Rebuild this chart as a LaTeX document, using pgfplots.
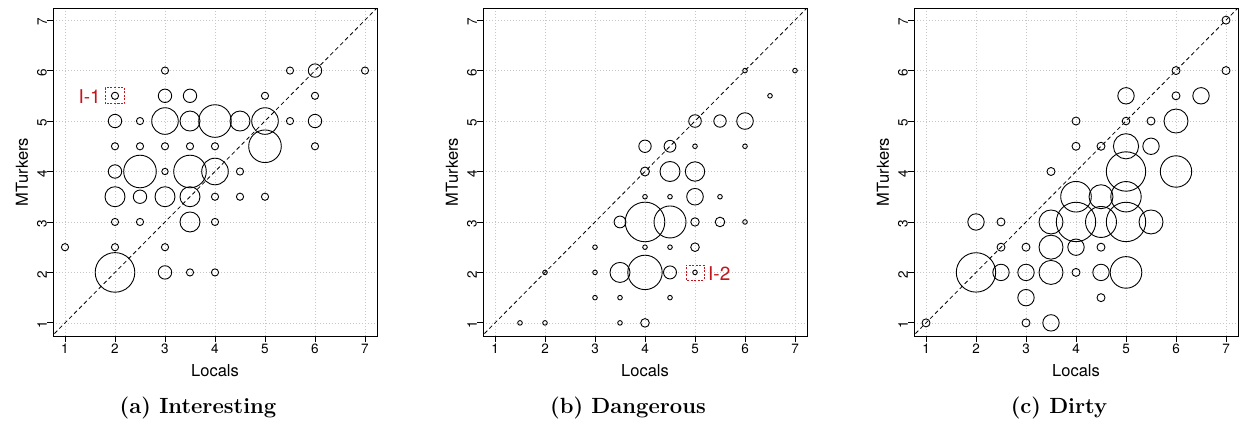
\documentclass[border=0pt]{standalone}
\usepackage{fontspec}
\setsansfont{TeX Gyre Heros}
\usepackage{pgfplots}
\usepackage{pgfplotstable}
\pgfplotsset{compat=1.18}
\definecolor{annot}{RGB}{196,20,28}

% x = Locals, y = MTurkers, r = circle radius (pt)
\pgfplotstableread{
x   y   r
3   6   3.6
5.5 6   3.6
6   6   6.7
7   6   3.6
2   5.5 3.6
3   5.5 6.7
3.5 5.5 6.7
5   5.5 3.6
6   5.5 3.6
2   5   6.7
2.5 5   3.6
3   5   13.3
3.5 5   10
4   5   16.3
4.5 5   10
5   5   13.3
5.5 5   3.6
6   5   6.7
2   4.5 3.6
2.5 4.5 3.6
3   4.5 3.6
3.5 4.5 3.6
4   4.5 3.6
5   4.5 16.3
6   4.5 3.6
2   4   6.7
2.5 4   16.3
3   4   3.2
3.5 4   16.3
4   4   13.3
4.5 4   3.6
2   3.5 10
2.5 3.5 6.7
3   3.5 10
3.5 3.5 10
4   3.5 3.6
4.5 3.5 3.6
5   3.5 3.6
2   3   3.6
2.5 3   3.6
3.5 3   10
4   3   3.6
1   2.5 3.6
2   2.5 3.6
3   2.5 3.6
2   2   19.8
3   2   6.7
3.5 2   3.6
4   2   3.6
}\dataA

\pgfplotstableread{
x   y   r
6   6   2.3
7   6   2.3
6.5 5.5 2.3
5   5   6.3
5.5 5   6.2
6   5   8.3
4   4.5 6.2
4.5 4.5 5.9
5   4.5 2.3
6   4.5 2.3
4   4   4.5
4.5 4   10
5   4   9.7
4   3.5 2.3
4.5 3.5 2.3
5   3.5 8.3
5.5 3.5 2.3
3.5 3   5.9
4   3   19.8
4.5 3   16
5   3   4.2
5.5 3   4.8
6   3   2.3
3   2.5 2.3
4   2.5 2.3
4.5 2.5 2.3
5   2.5 4.3
2   2   2.3
3   2   2.3
3.5 2   10
4   2   17.2
4.5 2   6.5
5   2   2.3
3   1.5 2.3
3.5 1.5 2.3
4.5 1.5 2.3
1.5 1   2.3
2   1   2.3
3.5 1   2.3
4   1   4.3
}\dataB

\pgfplotstableread{
x   y   r
7   7   4
6   6   4
7   6   4
5   5.5 8.2
6   5.5 4
6.5 5.5 8.2
4   5   4
5   5   3.8
5.5 5   4
6   5   12
4   4.5 4
4.5 4.5 4
5   4.5 12.6
5.5 4.5 8.2
3.5 4   4
5   4   19.7
6   4   15.7
4   3.5 15.3
4.5 3.5 12
5   3.5 15.2
2   3   8.2
2.5 3   4
3.5 3   12
4   3   19.7
4.5 3   15.5
5   3   19.7
5.5 3   12
2.5 2.5 4
3   2.5 4
3.5 2.5 12
4   2.5 8.2
4.5 2.5 4
2   2   19.7
2.5 2   8.2
3   2   8.2
3.5 2   12
4   2   4
4.5 2   8.2
5   2   15.8
3   1.5 8.2
4.5 1.5 4
1   1   4
3   1   4
3.5 1   8.2
}\dataC

\pgfplotsset{
  panel/.style={
    width=324pt, height=328pt, scale only axis,
    anchor=south west,
    xmin=0.76, xmax=7.24, ymin=0.74, ymax=7.24,
    xtick={1,...,7}, ytick={1,...,7},
    xtick pos=left, ytick pos=left,
    tick align=outside,
    major tick length=6pt,
    every tick/.style={black, line width=0.8pt},
    axis line style={line width=0.9pt},
    grid=major,
    grid style={black!22, dash pattern=on 1pt off 2pt, line width=0.7pt},
    /pgf/number format/assume math mode=true,
    tick label style={font=\sffamily\fontsize{13.5}{15}\selectfont},
    xticklabel style={anchor=north, inner sep=0pt, yshift=-2pt},
    yticklabel style={rotate=90, anchor=south, inner sep=0pt, xshift=-2pt},
    xlabel={Locals}, ylabel={MTurkers},
    label style={font=\sffamily\fontsize{16.5}{18}\selectfont},
    xlabel style={at={(axis description cs:0.5,-0.107)}, anchor=center},
    ylabel style={at={(axis description cs:-0.096,0.5)}, anchor=center},
  },
  bubbles/.style={
    only marks, scatter, mark=o,
    point meta=\thisrow{r},
    scatter/use mapped color={draw=black},
    mark options={line width=0.9pt},
    visualization depends on={\thisrow{r}\as\rad},
    scatter/@pre marker code/.append style={/tikz/mark size=\rad},
  },
  diag/.style={black, line width=0.8pt, dash pattern=on 4pt off 3pt},
}

\begin{document}
\begin{tikzpicture}
\useasboundingbox (-53pt,-85pt) rectangle (1190pt,336pt);

\begin{axis}[panel, name=pa, at={(0pt,0pt)}]
\addplot[diag] coordinates {(0,0) (8,8)};
\addplot[bubbles] table[x=x, y=y] {\dataA};
\draw[annot, line width=0.8pt, dash pattern=on 2pt off 1.5pt]
  ([xshift=-9.5pt,yshift=-8pt]axis cs:2,5.5) rectangle ([xshift=9.5pt,yshift=8pt]axis cs:2,5.5);
\node[annot, anchor=east, inner sep=0pt, font=\sffamily\fontsize{19}{20}\selectfont]
  at ([xshift=-14pt,yshift=-1pt]axis cs:2,5.5) {I-1};
\end{axis}

\begin{axis}[panel, name=pb, at={(430pt,0pt)}]
\addplot[diag] coordinates {(0,0) (8,8)};
\addplot[bubbles] table[x=x, y=y] {\dataB};
\draw[annot, line width=0.8pt, dash pattern=on 2pt off 1.5pt]
  ([xshift=-9pt,yshift=-7.5pt]axis cs:5,2) rectangle ([xshift=9pt,yshift=7.5pt]axis cs:5,2);
\node[annot, anchor=west, inner sep=0pt, font=\sffamily\fontsize{19}{20}\selectfont]
  at ([xshift=13pt,yshift=-1pt]axis cs:5,2) {I-2};
\end{axis}

\begin{axis}[panel, name=pc, at={(861pt,0pt)}]
\addplot[diag] coordinates {(0,0) (8,8)};
\addplot[bubbles] table[x=x, y=y] {\dataC};
\end{axis}

\foreach \p/\t in {pa/(a) Interesting, pb/(b) Dangerous, pc/(c) Dirty}
  \node[anchor=base, inner sep=0pt, font=\fontsize{22}{26}\selectfont\bfseries]
    at ([xshift=145pt,yshift=-77pt]\p.south west) {\t};
\end{tikzpicture}
\end{document}
